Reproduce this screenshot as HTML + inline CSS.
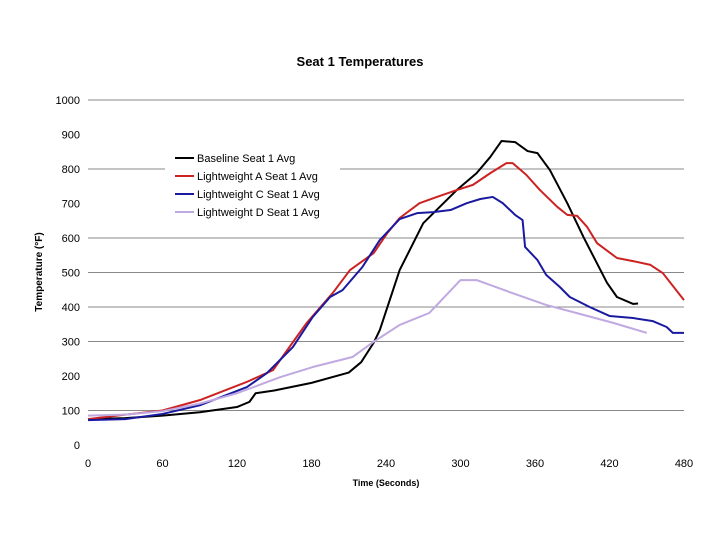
<!DOCTYPE html>
<html><head><meta charset="utf-8"><style>
body{margin:0;background:#fff}
svg text{font-family:"Liberation Sans",sans-serif}
</style></head><body>
<svg id="chart" width="720" height="540">
<text x="360" y="66" text-anchor="middle" font-size="13" font-weight="bold">Seat 1 Temperatures</text>
<text transform="translate(42,272) rotate(-90)" text-anchor="middle" font-size="10" font-weight="bold">Temperature (°F)</text>
<text x="386" y="486" text-anchor="middle" font-size="9" font-weight="bold">Time (Seconds)</text>
<g id="grid"></g><g id="yt"></g><g id="xt"></g><g id="series"></g>
<g id="legend"></g>
</svg>
<script>
const gridValues=[1000,800,600,500,400,300,100];
const yTicks=[0,100,200,300,400,500,600,700,800,900,1000];
const xTicks=[0,60,120,180,240,300,360,420,480];
const baselineT=[0,30,60,90,120,130,135,150,180,210,220,230,235,251,270,297,313,324,333,344,354,362,372,386,399,418,426,439,443];
const baselineV=[75,78,85,95,110,125,150,158,180,210,240,296,333,507,643,739,788,835,881,878,852,846,797,701,603,470,429,409,410];
const aT=[0,30,60,90,128,149,168,176,197,211,230,241,251,267,281,297,310,324,337,342,353,364,378,386,394,402,410,426,439,453,463,480];
const aV=[75,88,100,130,183,217,313,353,440,507,556,614,658,701,719,739,754,788,817,817,783,739,690,667,664,632,585,542,533,522,498,420];
const cT=[0,30,60,90,128,144,165,181,195,205,221,235,251,265,278,292,305,316,326,334,344,350,352,362,369,380,388,404,420,439,455,466,471,480];
const cV=[72,75,90,115,168,208,284,371,429,449,516,594,655,672,675,681,701,713,719,701,667,652,574,536,493,458,429,400,374,368,359,342,325,325];
const dT=[0,30,60,90,120,155,181,213,230,251,275,300,313,342,369,396,423,450];
const dV=[85,88,98,120,150,197,226,255,299,348,383,478,478,440,406,380,354,325];
const names=["Baseline Seat 1 Avg","Lightweight A Seat 1 Avg","Lightweight C Seat 1 Avg","Lightweight D Seat 1 Avg"];
const colors=["#000000","#cc2222","#1a1aa0","#c0a8e0"];
const X=t=>88+t*(596/480), Y=v=>445-v*0.345;
const NS="http://www.w3.org/2000/svg";
function mk(tag,attrs,parent){const e=document.createElementNS(NS,tag);for(const k in attrs)e.setAttribute(k,attrs[k]);parent.appendChild(e);return e;}
const g=document.getElementById('grid');
gridValues.forEach(v=>{const l=mk('line',{x1:88,x2:684,y1:Y(v),y2:Y(v),stroke:'#888','stroke-width':1},g);

});
const yt=document.getElementById('yt');
yTicks.forEach(v=>{const t=mk('text',{x:80,y:Y(v)+4,'text-anchor':'end','font-size':11},yt);t.textContent=v;

});
const xt=document.getElementById('xt');
xTicks.forEach(v=>{const t=mk('text',{x:X(v),y:467,'text-anchor':'middle','font-size':11},xt);t.textContent=v;

});
const lg=document.getElementById('legend');
const bg=mk('rect',{x:165,y:149,width:175,height:72,fill:'#fff'},lg);


const S=document.getElementById('series');
[[baselineT,baselineV],[aT,aV],[cT,cV],[dT,dV]].forEach((s,i)=>{
 const p=mk('polyline',{points:s[0].map((t,j)=>X(t)+','+Y(s[1][j])).join(' '),fill:'none',stroke:colors[i],'stroke-width':2,'stroke-linejoin':'round'},S);
 
 
 const y=158+i*18;
 const ln=mk('line',{x1:175,x2:194,y1:y,y2:y,stroke:colors[i],'stroke-width':2},lg);
 
 
 const tx=mk('text',{x:197,y:y+4,'font-size':11},lg);tx.textContent=names[i];
 
 
});
</script>
</body></html>
